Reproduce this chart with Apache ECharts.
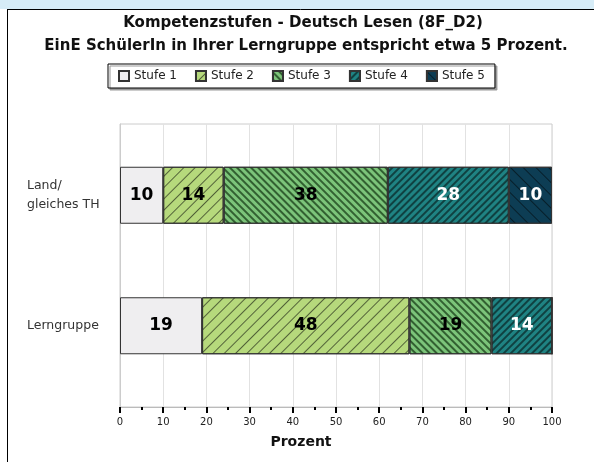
<!DOCTYPE html>
<html>
<head>
<meta charset="utf-8">
<script src="https://cdn.jsdelivr.net/npm/echarts@6/dist/echarts.min.js"></script>
<style>
  html, body { margin: 0; padding: 0; background: #fff; }
  #chart { width: 594px; height: 462px; }
</style>
</head>
<body>
<div id="chart"></div>
<script>
// Daten
const categories = ['Land/\ngleiches TH', 'Lerngruppe']
const levels = ['Stufe 1', 'Stufe 2', 'Stufe 3', 'Stufe 4', 'Stufe 5']
const stufe1 = [10, 19]
const stufe2 = [14, 48]
const stufe3 = [38, 19]
const stufe4 = [28, 14]
const stufe5 = [10, 0]
const values = [stufe1, stufe2, stufe3, stufe4, stufe5]

const colors = ['#efeef0', '#b6d97c', '#7cc47a', '#1f8383', '#0d3d54']
const labelColors = ['#000', '#000', '#000', '#fff', '#fff']
// Schraffur je Stufe
const decals = [
  null,
  { symbol: 'rect', symbolSize: 1, color: 'rgba(0,0,0,0.55)', dashArrayX: [1, 0], dashArrayY: [1, 7], rotation: -Math.PI / 4 },
  { symbol: 'rect', symbolSize: 1, color: 'rgba(0,30,0,0.6)', dashArrayX: [1, 0], dashArrayY: [1.4, 2.4], rotation: Math.PI / 4 },
  { symbol: 'rect', symbolSize: 1, color: 'rgba(0,0,0,0.5)', dashArrayX: [1, 0], dashArrayY: [1.4, 2.4], rotation: -Math.PI / 4 },
  { symbol: 'rect', symbolSize: 1, color: 'rgba(0,0,0,0.5)', dashArrayX: [1, 0], dashArrayY: [1, 7.5], rotation: Math.PI / 4 }
]

const font = 'DejaVu Sans'
const chart = echarts.init(document.getElementById('chart'))

const series = levels.map((name, i) => {
  const itemStyle = { color: colors[i], borderColor: '#333', borderWidth: 1 }
  if (decals[i]) itemStyle.decal = decals[i]
  return {
    name: name,
    type: 'bar',
    stack: 'total',
    xAxisIndex: 1,
    yAxisIndex: 1,
    barWidth: 57,
    data: values[i],
    itemStyle: itemStyle,
    label: {
      show: true,
      position: 'inside',
      fontFamily: font,
      fontWeight: 'bold',
      fontSize: 17,
      color: labelColors[i],
      formatter: p => (p.value > 0 ? p.value : '')
    },
    emphasis: { disabled: true }
  }
})

const option = {
  animation: false,
  backgroundColor: '#fff',
  graphic: [
    { type: 'rect', shape: { x: 0, y: 0, width: 594, height: 9 }, style: { fill: '#d6ecf7' } },
    { type: 'line', shape: { x1: 7, y1: 9.5, x2: 594, y2: 9.5 }, style: { stroke: '#000', lineWidth: 1 } },
    { type: 'line', shape: { x1: 7.5, y1: 9, x2: 7.5, y2: 462 }, style: { stroke: '#000', lineWidth: 1 } },
    { type: 'text', x: 303, y: 16, style: { text: 'Kompetenzstufen - Deutsch Lesen (8F_D2)', textAlign: 'center', fontFamily: font, fontWeight: 'bold', fontSize: 15, fill: '#111' } },
    { type: 'text', x: 306, y: 39, style: { text: 'EinE SchülerIn in Ihrer Lerngruppe entspricht etwa 5 Prozent.', textAlign: 'center', fontFamily: font, fontWeight: 'bold', fontSize: 15, fill: '#111' } }
  ],
  legend: {
    data: levels,
    left: 108,
    top: 64,
    icon: 'rect',
    itemWidth: 10,
    itemHeight: 10,
    itemGap: 18,
    padding: [6, 10, 6, 10],
    backgroundColor: '#fff',
    borderColor: '#000',
    borderWidth: 1,
    shadowColor: '#999',
    shadowOffsetX: 2,
    shadowOffsetY: 2,
    shadowBlur: 0,
    selectedMode: false,
    textStyle: { fontFamily: font, fontSize: 12, color: '#222' }
  },
  grid: [
    { left: 120, right: 42, top: 124, bottom: 55, show: true, borderColor: '#ccc', borderWidth: 1, backgroundColor: '#fff' },
    { left: 120, right: 42, top: 130, bottom: 71 }
  ],
  xAxis: [
    {
      type: 'value',
      gridIndex: 0,
      min: 0,
      max: 100,
      interval: 10,
      name: 'Prozent',
      nameLocation: 'middle',
      nameGap: 28,
      nameTextStyle: { fontFamily: font, fontWeight: 'bold', fontSize: 14, color: '#111', padding: [0, 70, 0, 0] },
      axisLine: { show: true, lineStyle: { color: '#bbb', width: 1 } },
      axisTick: { show: true, length: 6, lineStyle: { color: '#000', width: 2 } },
      minorTick: { show: true, splitNumber: 2, length: 3, lineStyle: { color: '#000', width: 2 } },
      splitLine: { show: true, lineStyle: { color: '#e2e2e2', width: 1 } },
      axisLabel: { fontFamily: font, fontSize: 10, color: '#222', margin: 10 }
    },
    {
      type: 'value',
      gridIndex: 1,
      min: 0,
      max: 100,
      show: false
    }
  ],
  yAxis: [
    {
      type: 'category',
      gridIndex: 0,
      data: [''],
      axisLine: { show: true, lineStyle: { color: '#ccc' } },
      axisTick: { show: false },
      axisLabel: { show: false }
    },
    {
      type: 'category',
      gridIndex: 1,
      inverse: true,
      data: categories,
      axisLine: { show: false },
      axisTick: { show: false },
      axisLabel: {
        align: 'left',
        margin: 93,
        fontFamily: font,
        fontSize: 12.5,
        lineHeight: 19,
        color: '#333'
      }
    }
  ],
  series: series
}

chart.setOption(option)
</script>
</body>
</html>
